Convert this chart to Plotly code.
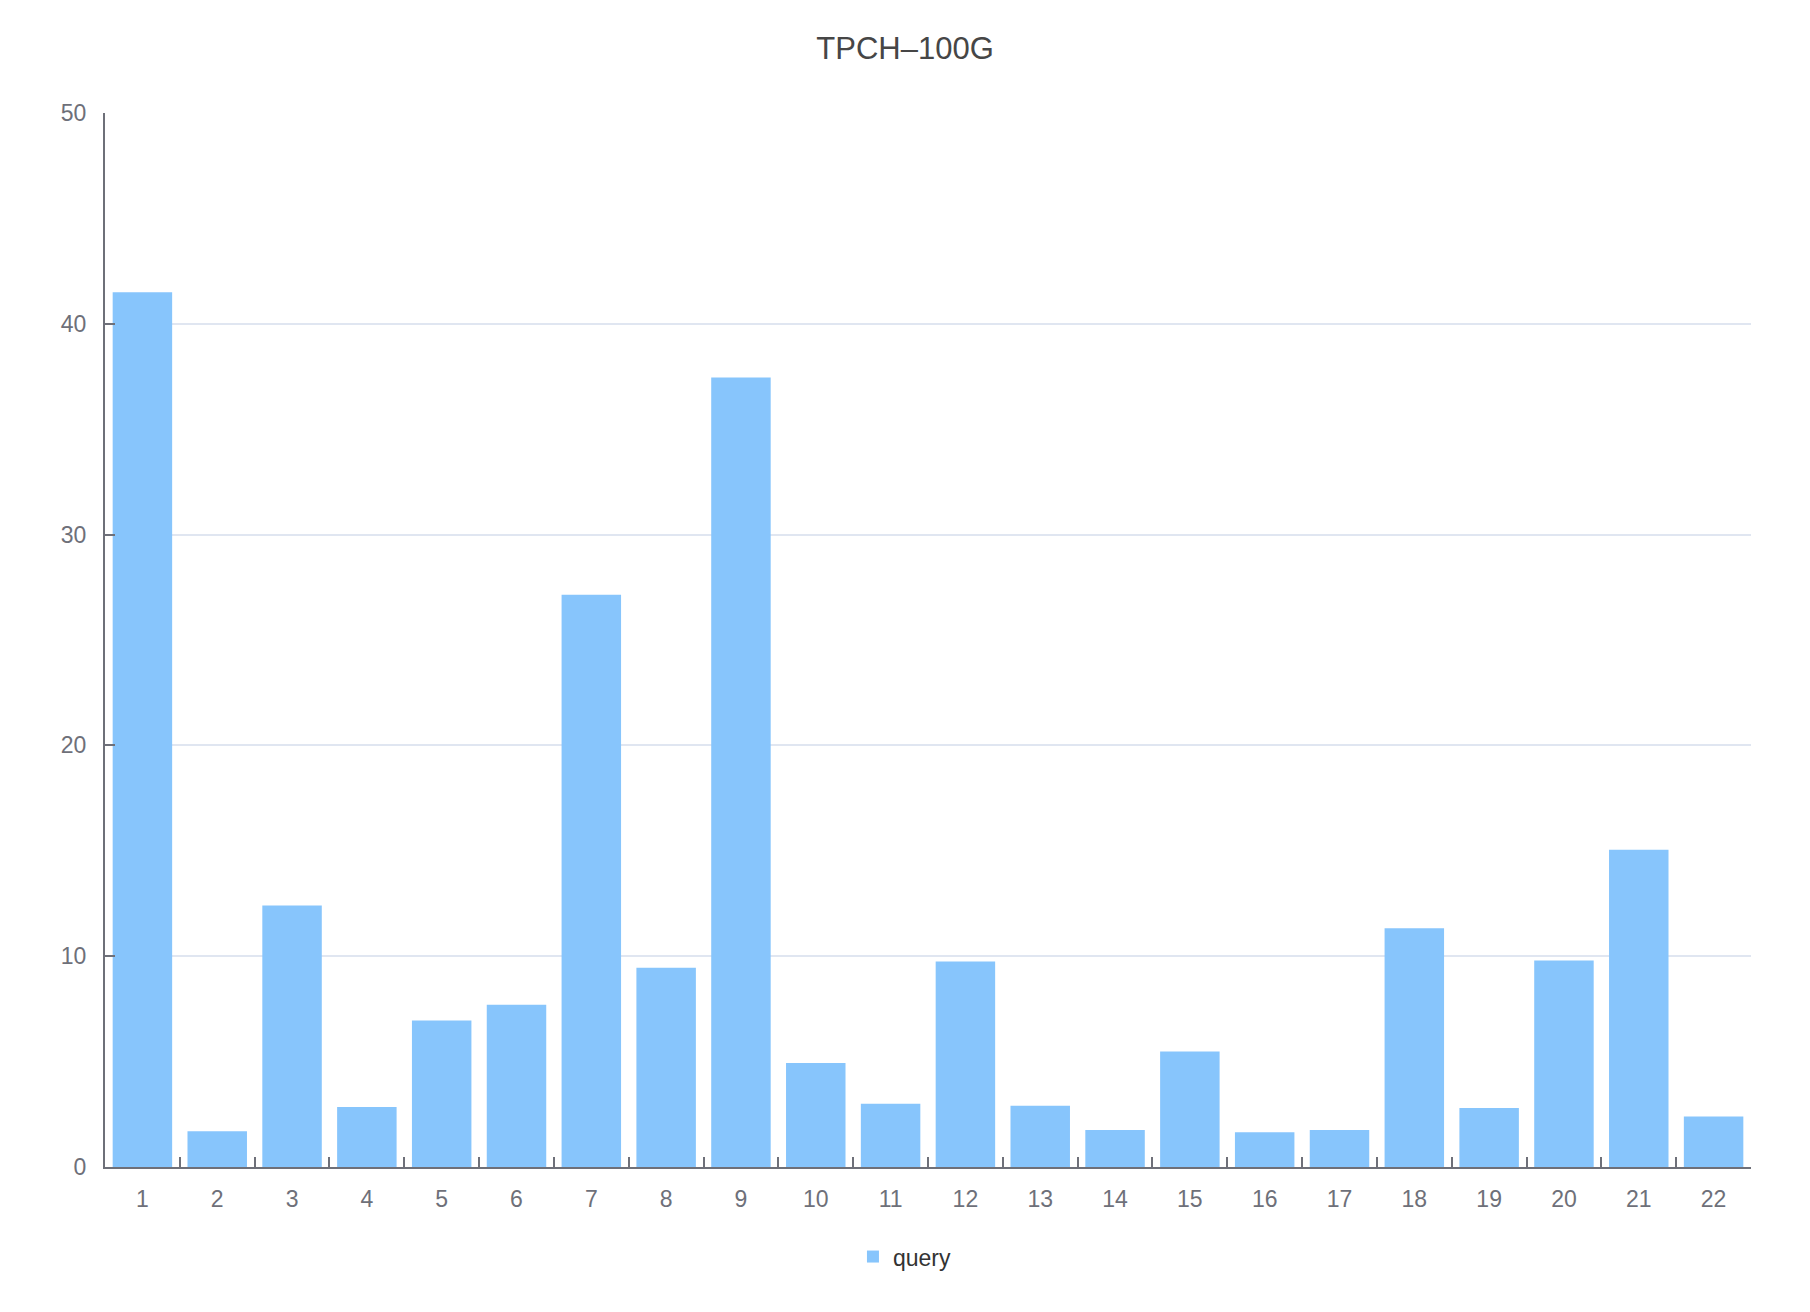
import plotly.graph_objects as go

categories = [str(i) for i in range(1, 23)]
query_values = [41.5, 1.7, 12.4, 2.85, 6.95, 7.7, 27.15, 9.45, 37.45, 4.93, 3.0, 9.75,
                2.9, 1.75, 5.48, 1.65, 1.75, 11.33, 2.8, 9.8, 15.05, 2.4]
y_ticks = [0, 10, 20, 30, 40, 50]

FONT = "Liberation Sans, Arial, sans-serif"
AXIS_COLOR = "#6E7079"

fig = go.Figure()
fig.add_trace(go.Bar(
    x=categories, y=query_values, name="query",
    marker=dict(color="#87c5fc", line=dict(width=0)),
    showlegend=True,
))

fig.update_layout(
    width=1810, height=1312,
    margin=dict(l=97, r=67, t=105, b=153),
    paper_bgcolor="white", plot_bgcolor="white",
    bargap=0.205,
    font=dict(family=FONT, color=AXIS_COLOR, size=23),
    title=dict(text="TPCH\u2013100G", x=0.4956, xanchor="center", y=1 - 40 / 1312, yanchor="middle",
               font=dict(family=FONT, size=31, color="#464646")),
    showlegend=True,
    legend=dict(orientation="h", x=0.486, xanchor="center", y=-0.085, yanchor="middle",
                font=dict(size=23, color="#333333"), bgcolor="rgba(0,0,0,0)"),
    xaxis=dict(
        type="category", showgrid=False, showline=True, linecolor=AXIS_COLOR, linewidth=2,
        ticks="inside", tickson="boundaries", ticklen=10, tickwidth=2, tickcolor=AXIS_COLOR,
        tickfont=dict(size=23, color=AXIS_COLOR), ticklabelstandoff=10, zeroline=False,
    ),
    yaxis=dict(
        range=[0, 50], tickvals=y_ticks, showgrid=True, gridcolor="#E0E6F1", gridwidth=1.5,
        showline=True, linecolor=AXIS_COLOR, linewidth=2, ticks="inside", ticklen=10,
        tickwidth=2, tickcolor=AXIS_COLOR, tickfont=dict(size=23, color=AXIS_COLOR),
        ticklabelstandoff=12, zeroline=False,
    ),
)

fig.write_html("out.html")
